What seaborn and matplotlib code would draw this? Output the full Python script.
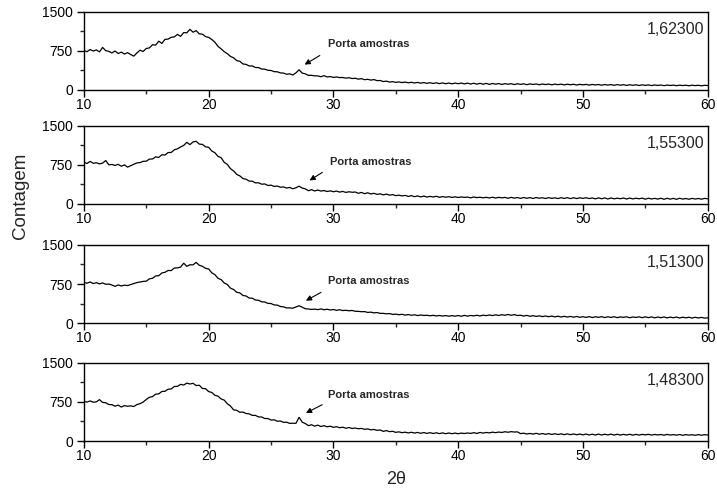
import numpy as np
import seaborn as sns
import matplotlib
matplotlib.use("Agg")
import matplotlib.pyplot as plt
from matplotlib.ticker import MultipleLocator

sns.set_style("ticks")
plt.rcParams["font.family"] = ["Liberation Sans", "DejaVu Sans"]

# 2-theta sampling grid (10 to 60, step 0.25)
two_theta = np.linspace(10, 60, 201)

labels = ["1,62300", "1,55300", "1,51300", "1,48300"]

counts_1623 = [
    760, 735, 778, 748, 770, 732, 818, 755, 742, 712, 748, 700, 728, 690, 718, 682, 650, 712, 765, 740,
    798, 808, 870, 862, 938, 895, 972, 978, 1012, 1020, 1068, 1030, 1102, 1098, 1165, 1110, 1140, 1078, 1072, 1025,
    1010, 970, 918, 838, 790, 735, 698, 645, 618, 565, 552, 500, 492, 462, 462, 432, 430, 402, 400, 378,
    375, 352, 350, 328, 325, 302, 310, 288, 330, 388, 325, 310, 280, 282, 272, 270, 255, 275, 250, 258,
    242, 250, 238, 240, 228, 235, 220, 225, 208, 218, 198, 205, 190, 200, 180, 182, 162, 170, 152, 160,
    146, 155, 142, 152, 138, 148, 134, 146, 130, 142, 128, 140, 125, 138, 122, 136, 120, 134, 118, 133,
    120, 134, 116, 132, 114, 130, 112, 128, 110, 127, 108, 125, 112, 124, 106, 122, 110, 121, 104, 120,
    108, 119, 102, 117, 106, 116, 100, 115, 104, 114, 99, 113, 102, 112, 97, 111, 100, 110, 95, 109,
    98, 108, 93, 107, 96, 106, 91, 105, 94, 104, 90, 103, 92, 102, 88, 101, 90, 100, 86, 99,
    88, 98, 84, 97, 87, 96, 83, 95, 86, 94, 82, 93, 85, 92, 81, 92, 84, 91, 80, 90,
    86,
]

counts_1553 = [
    805, 778, 818, 782, 792, 770, 785, 835, 752, 760, 740, 762, 725, 752, 708, 735, 760, 790, 795, 820,
    822, 862, 865, 905, 895, 945, 940, 988, 990, 1042, 1060, 1095, 1125, 1185, 1140, 1192, 1205, 1150, 1145, 1098,
    1090, 1018, 985, 915, 890, 800, 760, 678, 635, 568, 540, 488, 475, 440, 438, 405, 408, 380, 385, 355,
    362, 338, 345, 322, 328, 305, 318, 292, 312, 342, 305, 290, 255, 275, 250, 268, 248, 258, 240, 252,
    235, 248, 228, 242, 222, 235, 225, 230, 205, 222, 198, 215, 192, 205, 185, 195, 175, 190, 170, 180,
    160, 170, 155, 165, 145, 160, 140, 155, 136, 152, 134, 146, 135, 148, 128, 142, 130, 140, 126, 138,
    124, 136, 126, 133, 118, 135, 122, 130, 118, 128, 116, 130, 114, 128, 118, 126, 110, 127, 112, 124,
    108, 124, 110, 122, 106, 124, 110, 120, 105, 122, 108, 118, 104, 121, 106, 122, 103, 120, 104, 119,
    108, 120, 104, 116, 98, 118, 100, 117, 96, 116, 99, 112, 101, 115, 95, 114, 97, 111, 100, 113,
    92, 111, 96, 108, 94, 110, 90, 109, 93, 108, 89, 110, 94, 105, 91, 108, 95, 106, 92, 107,
    100,
]

counts_1513 = [
    785, 765, 790, 758, 776, 752, 772, 745, 750, 730, 705, 732, 712, 728, 720, 738, 758, 778, 790, 800,
    805, 850, 860, 905, 910, 962, 975, 1010, 1008, 1058, 1060, 1075, 1150, 1090, 1120, 1118, 1165, 1110, 1090, 1052,
    1040, 965, 930, 860, 835, 770, 740, 670, 645, 592, 580, 530, 520, 480, 478, 442, 438, 408, 405, 378,
    375, 348, 345, 318, 312, 290, 292, 285, 310, 332, 305, 275, 270, 262, 268, 258, 272, 255, 266, 250,
    260, 244, 256, 240, 245, 236, 242, 226, 225, 218, 220, 204, 210, 195, 202, 186, 186, 178, 182, 166,
    172, 160, 168, 152, 164, 150, 158, 144, 155, 146, 150, 140, 148, 136, 146, 134, 144, 132, 143, 132,
    145, 130, 148, 132, 146, 138, 150, 136, 152, 142, 155, 144, 158, 146, 160, 150, 165, 150, 162, 145,
    150, 134, 148, 130, 142, 128, 138, 124, 136, 122, 134, 118, 132, 116, 130, 115, 128, 112, 127, 110,
    122, 108, 124, 106, 121, 110, 123, 105, 120, 108, 122, 104, 118, 110, 120, 102, 117, 108, 119, 103,
    120, 104, 118, 100, 116, 103, 117, 99, 114, 102, 115, 97, 113, 100, 112, 96, 111, 98, 109, 95,
    100,
]

counts_1483 = [
    760, 748, 770, 745, 752, 795, 742, 735, 700, 698, 668, 690, 652, 680, 668, 675, 662, 700, 718, 748,
    798, 840, 852, 900, 905, 952, 955, 995, 1000, 1048, 1050, 1088, 1075, 1112, 1095, 1108, 1065, 1072, 1010, 1005,
    950, 932, 878, 862, 808, 785, 715, 672, 598, 590, 552, 556, 528, 522, 492, 492, 462, 462, 432, 432,
    402, 408, 380, 385, 358, 362, 338, 342, 340, 455, 362, 335, 295, 312, 285, 305, 278, 295, 272, 285,
    262, 275, 255, 266, 245, 260, 240, 250, 235, 242, 225, 232, 214, 222, 205, 212, 185, 200, 180, 186,
    166, 176, 160, 170, 155, 168, 152, 165, 148, 162, 146, 160, 144, 158, 142, 156, 140, 154, 140, 152,
    140, 152, 144, 154, 146, 160, 146, 164, 152, 164, 156, 170, 160, 172, 164, 178, 168, 180, 172, 176,
    142, 150, 134, 146, 132, 148, 130, 144, 128, 142, 126, 140, 124, 138, 122, 137, 121, 136, 120, 134,
    118, 134, 116, 131, 114, 133, 115, 130, 117, 132, 114, 130, 113, 128, 115, 130, 112, 128, 114, 127,
    118, 128, 114, 126, 116, 125, 111, 127, 114, 123, 112, 125, 110, 122, 113, 121, 109, 123, 111, 120,
    115,
]

series = [counts_1623, counts_1553, counts_1513, counts_1483]

# layout: axes bottoms (figure fraction) and annotation positions per panel
bottoms = [0.8156, 0.582, 0.338, 0.0963]
text_pos = [(29.55, 885), (29.75, 808), (29.6, 808), (29.6, 890)]
arrow_head = [(27.5, 460), (27.9, 423), (27.6, 404), (27.6, 513)]
arrow_tail = [(29.1, 690), (29.3, 635), (29.2, 615), (29.3, 722)]

fig = plt.figure(figsize=(7.17, 4.88), dpi=100)

for i, vals in enumerate(series):
    ax = fig.add_axes([0.117, bottoms[i], 0.870, 0.16])
    sns.lineplot(x=two_theta, y=vals, ax=ax, color="black", linewidth=0.9)
    ax.set_xlim(10, 60)
    ax.set_ylim(0, 1500)
    ax.set_xticks([10, 20, 30, 40, 50, 60])
    ax.set_yticks([0, 750, 1500])
    ax.xaxis.set_minor_locator(MultipleLocator(5))
    ax.yaxis.set_minor_locator(MultipleLocator(375))
    ax.tick_params(which="major", direction="out", length=5, width=1, labelsize=10, colors="black")
    ax.tick_params(which="minor", direction="out", length=3, width=1)
    ax.tick_params(axis="x", pad=1)
    ax.tick_params(axis="y", pad=3)
    for sp in ax.spines.values():
        sp.set_visible(True)
        sp.set_linewidth(1.0)
        sp.set_color("black")
    ax.text(0.995, 0.775, labels[i], transform=ax.transAxes, ha="right", va="center", fontsize=11.5)
    ax.text(text_pos[i][0], text_pos[i][1], "Porta amostras", ha="left", va="center",
            fontsize=8, fontweight="bold")
    ax.annotate("", xy=arrow_head[i], xytext=arrow_tail[i],
                arrowprops=dict(arrowstyle="-|>", color="black", lw=0.8, mutation_scale=8))

fig.text(0.029, 0.598, "Contagem", rotation=90, ha="center", va="center", fontsize=13.5)
fig.text(0.552, 0.018, "2θ", ha="center", va="center", fontsize=13)

fig.savefig("out.png", dpi=100)
